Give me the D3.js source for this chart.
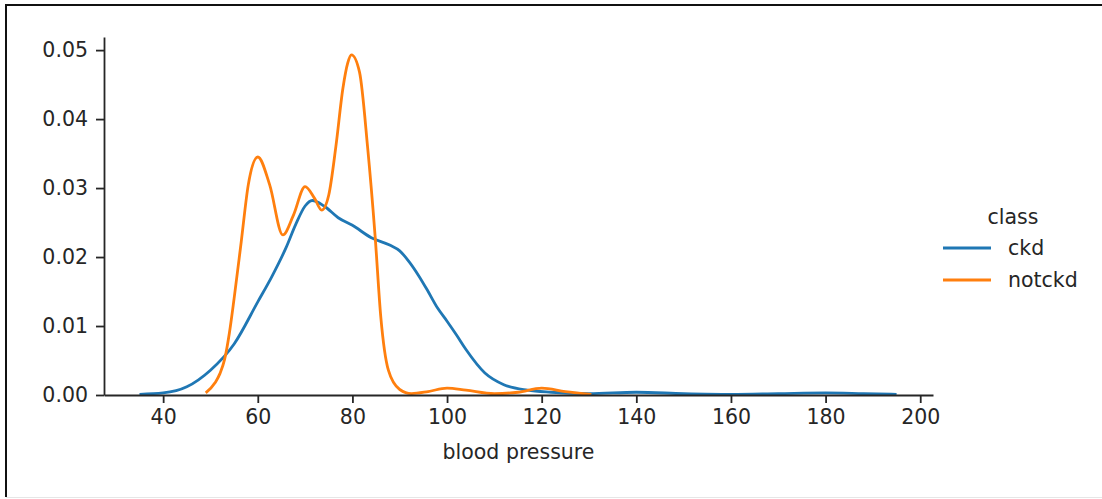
<!DOCTYPE html>
<html>
<head>
<meta charset="utf-8">
<script src="https://cdn.jsdelivr.net/npm/d3@7"></script>
<style>
  body { margin: 0; background: #fff; }
  text { font-family: "DejaVu Sans", sans-serif; fill: #262626; }
</style>
</head>
<body>
<div id="chart"></div>
<script>
// KDE curves: blood pressure vs density
const ckdX = [35, 40, 45, 50, 55, 60, 63, 66, 68, 70, 71.5, 74, 77, 80, 84, 88, 90, 92, 94, 96, 98, 100, 102, 104, 108, 112, 117, 122, 130, 140, 150, 160, 170, 180, 188, 195];
const ckdY = [0.0001, 0.0003, 0.0012, 0.0036, 0.0074, 0.0135, 0.0172, 0.0214, 0.0247, 0.0274, 0.0282, 0.0274, 0.0257, 0.0246, 0.0228, 0.0217, 0.0209, 0.0193, 0.0173, 0.0150, 0.0126, 0.0107, 0.0087, 0.0066, 0.0032, 0.0015, 0.0007, 0.0004, 0.0002, 0.0004, 0.0002, 0.0001, 0.0002, 0.0003, 0.0002, 0.0001];

const notckdX = [49, 51, 52, 53, 54, 55, 56.5, 58, 60, 62.5, 65.3, 67.5, 70, 72, 73.5, 75, 76.5, 78, 79, 79.8, 81.5, 83.2, 84.8, 86, 87.6, 90, 92.5, 96, 100, 104, 110, 115, 120, 125, 130.5];
const notckdY = [0.0003, 0.0018, 0.0031, 0.0052, 0.0090, 0.0140, 0.0222, 0.0305, 0.0345, 0.0305, 0.0232, 0.0260, 0.0302, 0.0285, 0.0268, 0.0290, 0.0360, 0.0445, 0.0481, 0.0493, 0.0468, 0.0360, 0.0230, 0.0113, 0.0036, 0.0008, 0.0002, 0.0005, 0.0010, 0.0007, 0.0002, 0.0004, 0.0010, 0.0005, 0.0001];

const classes = ['ckd', 'notckd'];
const colors = ['#1f77b4', '#ff7f0e'];
const xTicks = [40, 60, 80, 100, 120, 140, 160, 180, 200];
const yTicks = [0, 0.01, 0.02, 0.03, 0.04, 0.05];

const W = 1102, H = 499;
const FS = 20.5; // font size
const svg = d3.select('#chart').append('svg')
  .attr('width', W)
  .attr('height', H);

// frame around the figure
svg.append('line').attr('x1', 6).attr('y1', 5).attr('x2', W).attr('y2', 5)
  .attr('stroke', '#111').attr('stroke-width', 2);
svg.append('line').attr('x1', 6).attr('y1', 4).attr('x2', 6).attr('y2', 497)
  .attr('stroke', '#111').attr('stroke-width', 2);
svg.append('line').attr('x1', 6).attr('y1', 497.5).attr('x2', W).attr('y2', 497.5)
  .attr('stroke', '#e6e6e6').attr('stroke-width', 1);

const x = d3.scaleLinear().domain([27.5, 202.7]).range([104, 933]);
const y = d3.scaleLinear().domain([0, 0.0519]).range([395, 37]);

const series = [
  {name: classes[0], xs: ckdX, ys: ckdY, color: colors[0]},
  {name: classes[1], xs: notckdX, ys: notckdY, color: colors[1]}
];

const line = d3.line()
  .x(d => x(d[0]))
  .y(d => y(d[1]))
  .curve(d3.curveMonotoneX);

svg.selectAll('path.kde')
  .data(series)
  .join('path')
    .attr('class', 'kde')
    .attr('fill', 'none')
    .attr('stroke', d => d.color)
    .attr('stroke-width', 2.8)
    .attr('stroke-linejoin', 'round')
    .attr('d', d => line(d.xs.map((v, i) => [v, d.ys[i]])));

// axes
const xAxis = svg.append('g')
  .attr('transform', 'translate(0,' + y(0) + ')')
  .call(d3.axisBottom(x).tickValues(xTicks).tickSize(8).tickPadding(6).tickSizeOuter(0));
const yAxis = svg.append('g')
  .attr('transform', 'translate(' + x.range()[0] + ',0)')
  .call(d3.axisLeft(y).tickValues(yTicks).tickSize(8).tickPadding(8).tickSizeOuter(0)
    .tickFormat(d3.format('.2f')));

[xAxis, yAxis].forEach(g => {
  g.select('.domain').attr('stroke', '#262626').attr('stroke-width', 1.8);
  g.selectAll('.tick line').attr('stroke', '#262626').attr('stroke-width', 1.8);
  g.selectAll('.tick text')
    .attr('font-family', '"DejaVu Sans", sans-serif')
    .attr('font-size', FS)
    .attr('fill', '#262626');
});

svg.append('text')
  .attr('x', (x.range()[0] + x.range()[1]) / 2)
  .attr('y', 459)
  .attr('text-anchor', 'middle')
  .attr('font-size', FS)
  .text('blood pressure');

// legend
const lg = svg.append('g').attr('transform', 'translate(943,0)');
lg.append('text')
  .attr('x', 70)
  .attr('y', 224)
  .attr('text-anchor', 'middle')
  .attr('font-size', FS)
  .text('class');
const items = lg.selectAll('g.item')
  .data(series)
  .join('g')
    .attr('class', 'item')
    .attr('transform', (d, i) => 'translate(0,' + (248 + i * 32) + ')');
items.append('line')
  .attr('x1', 0).attr('x2', 48)
  .attr('stroke', d => d.color)
  .attr('stroke-width', 2.8);
items.append('text')
  .attr('x', 65)
  .attr('dy', '0.35em')
  .attr('font-size', FS)
  .text(d => d.name);
</script>
</body>
</html>
